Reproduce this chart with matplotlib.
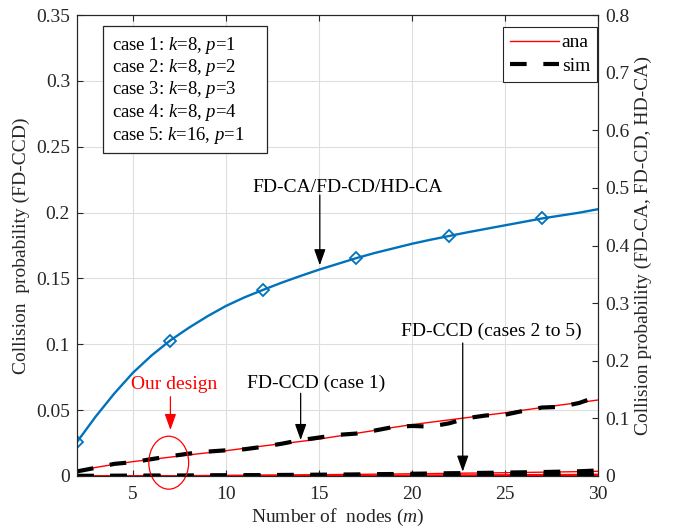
import numpy as np
import matplotlib
matplotlib.use("Agg")
import matplotlib.pyplot as plt
from matplotlib.patches import Ellipse, Rectangle
from matplotlib.lines import Line2D

plt.rcParams['font.family'] = ['Liberation Serif', 'DejaVu Serif']
plt.rcParams['mathtext.fontset'] = 'custom'
plt.rcParams['mathtext.rm'] = 'Liberation Serif'
plt.rcParams['mathtext.it'] = 'Liberation Serif:italic'
plt.rcParams['font.size'] = 14

# number of nodes m = 2..30
m = np.arange(2, 31)

# FD-CA / FD-CD / HD-CA (right axis)
fdca = [0.059, 0.103, 0.143, 0.179, 0.209, 0.235, 0.257, 0.277, 0.295, 0.310,
        0.323, 0.3355, 0.347, 0.358, 0.368, 0.378, 0.387, 0.395, 0.403, 0.410,
        0.4165, 0.423, 0.429, 0.435, 0.441, 0.447, 0.452, 0.457, 0.463]
marker_m = [2, 7, 12, 17, 22, 27]

# FD-CCD case 1 (left axis)
case1_ana = [0.0040, 0.0065, 0.0088, 0.0109, 0.0126, 0.0143, 0.0160, 0.0176, 0.0192, 0.0210,
             0.0228, 0.0245, 0.0262, 0.0280, 0.0302, 0.0324, 0.0346, 0.0369, 0.0390, 0.0408,
             0.0426, 0.0444, 0.0462, 0.0480, 0.0500, 0.0520, 0.0539, 0.0558, 0.0577]
case1_sim = [0.0035, 0.0062, 0.0092, 0.0105, 0.0128, 0.0150, 0.0170, 0.0185, 0.0195, 0.0203,
             0.0222, 0.0245, 0.0272, 0.0292, 0.0312, 0.0322, 0.0345, 0.0372, 0.0380, 0.0375,
             0.0400, 0.0440, 0.0460, 0.0465, 0.0495, 0.0520, 0.0525, 0.0555, 0.0605]

# FD-CCD cases 2 to 5 (left axis)
case2_ana = [0.0000, 0.0000, 0.0001, 0.0001, 0.0002, 0.0002, 0.0003, 0.0004, 0.0005, 0.0006,
             0.0007, 0.0008, 0.0009, 0.0010, 0.0011, 0.0012, 0.0014, 0.0015, 0.0017, 0.0018,
             0.0020, 0.0022, 0.0023, 0.0025, 0.0027, 0.0029, 0.0031, 0.0033, 0.0036]
case3_ana = [0.0000, 0.0000, 0.0000, 0.0000, 0.0000, 0.0000, 0.0000, 0.0001, 0.0001, 0.0001,
             0.0001, 0.0001, 0.0001, 0.0001, 0.0002, 0.0002, 0.0002, 0.0002, 0.0002, 0.0003,
             0.0003, 0.0003, 0.0003, 0.0004, 0.0004, 0.0004, 0.0005, 0.0005, 0.0005]
case4_ana = [0.0000] * 20 + [0.0001] * 9
case5_ana = [0.0000, 0.0000, 0.0000, 0.0001, 0.0001, 0.0001, 0.0001, 0.0002, 0.0002, 0.0002,
             0.0003, 0.0003, 0.0003, 0.0004, 0.0004, 0.0005, 0.0005, 0.0006, 0.0006, 0.0007,
             0.0008, 0.0008, 0.0009, 0.0009, 0.0010, 0.0011, 0.0011, 0.0012, 0.0013]
case2_sim = [0.0000, 0.0000, 0.0001, 0.0001, 0.0002, 0.0002, 0.0003, 0.0004, 0.0005, 0.0006,
             0.0007, 0.0008, 0.0009, 0.0010, 0.0011, 0.0012, 0.0014, 0.0015, 0.0017, 0.0019,
             0.0021, 0.0022, 0.0024, 0.0026, 0.0028, 0.0030, 0.0033, 0.0036, 0.0042]
case3_sim = case3_ana
case4_sim = case4_ana
case5_sim = case5_ana

left_ticks = [0, 0.05, 0.1, 0.15, 0.2, 0.25, 0.3, 0.35]
right_ticks = [0, 0.1, 0.2, 0.3, 0.4, 0.5, 0.6, 0.7, 0.8]
x_ticks = [5, 10, 15, 20, 25, 30]

axcol = '#262626'
blue = '#0072BD'

fig = plt.figure(figsize=(6.76, 5.29), dpi=100)
ax = fig.add_axes([77 / 676, 53 / 529, 521 / 676, 461 / 529])
ax2 = ax.twinx()

# left axis: FD-CCD
for y in [case2_ana, case3_ana, case4_ana, case5_ana]:
    ax.plot(m, y, color='red', lw=1.0, zorder=3)
for y in [case2_sim, case3_sim, case4_sim, case5_sim]:
    ax.plot(m, y, color='black', lw=3, dashes=(4, 4), zorder=4)
ax.plot(m, case1_ana, color='red', lw=1.0, zorder=3)
ax.plot(m, case1_sim, color='black', lw=3, dashes=(4, 4), zorder=4)

# right axis: FD-CA/FD-CD/HD-CA
ax2.plot(m, fdca, color=blue, lw=1.7)
ax2.plot(marker_m, [fdca[i - 2] for i in marker_m], ls='none', marker='D',
         ms=6.5, mfc='none', mec=blue, mew=1.3)

ax.set_xlim(2, 30)
ax.set_ylim(0, 0.35)
ax2.set_ylim(0, 0.8)
ax.set_xticks(x_ticks)
ax.set_xticklabels([str(v) for v in x_ticks])
ax.set_yticks(left_ticks)
ax.set_yticklabels(['%g' % v for v in left_ticks])
ax2.set_yticks(right_ticks)
ax2.set_yticklabels(['%g' % v for v in right_ticks])

ax.grid(True, color='#dedede', lw=0.8)
ax.set_axisbelow(True)
ax.tick_params(direction='in', top=True, length=4, colors=axcol, labelsize=14)
ax.tick_params(axis='x', pad=7)
ax.tick_params(axis='y', pad=5)
ax2.tick_params(direction='in', length=4, colors=axcol, labelsize=14, pad=5)
for a in (ax, ax2):
    for s in a.spines.values():
        s.set_color(axcol)
        s.set_linewidth(0.8)

ax.set_xlabel('Number of  nodes ($m$)', fontsize=14, color=axcol, labelpad=3)
ax.set_ylabel('Collision  probability (FD-CCD)', fontsize=14, color=axcol, labelpad=4)
ax2.set_ylabel('Collision probability (FD-CA, FD-CD, HD-CA)', fontsize=14,
               color=axcol, labelpad=4)

# legend
handles = [Line2D([], [], color='red', lw=1.0),
           Line2D([], [], color='black', lw=3, dashes=(4, 4))]
leg = ax2.legend(handles, ['ana', 'sim'], loc='upper right',
                 bbox_to_anchor=(0.998, 0.974), borderaxespad=0, fontsize=14,
                 fancybox=False, edgecolor=axcol, framealpha=1,
                 handlelength=2.5, handletextpad=0.15, borderpad=0.35,
                 labelspacing=0.3)
leg.get_frame().set_linewidth(0.8)

# case box
cases = ['case 1: $k$=8, $p$=1', 'case 2: $k$=8, $p$=2', 'case 3: $k$=8, $p$=3',
         'case 4: $k$=8, $p$=4', 'case 5: $k$=16, $p$=1']
ax.add_patch(Rectangle((0.0499, 0.7007), 0.3148, 0.2753, transform=ax.transAxes,
                       fill=True, fc='white', ec=axcol, lw=0.9, zorder=6))
for i, s in enumerate(cases):
    ax.text(0.0666, (476 - 45 - 22.5 * i) / 461, s, transform=ax.transAxes,
            ha='left', va='center', fontsize=13.5, zorder=7)

# annotations
arrow_k = dict(arrowstyle='-|>,head_length=0.7,head_width=0.25', color='black', lw=0.9,
               shrinkA=0, shrinkB=0)
ax.text(11.41, 0.2194, 'FD-CA/FD-CD/HD-CA', ha='left', va='center', fontsize=14)
ax.annotate('', xy=(15.05, 0.160), xytext=(15.05, 0.2133), arrowprops=arrow_k)

ax.text(11.13, 0.0704, 'FD-CCD (case 1)', ha='left', va='center', fontsize=14)
ax.annotate('', xy=(14.02, 0.0273), xytext=(14.02, 0.0628), arrowprops=arrow_k)

ax.text(19.4, 0.110, 'FD-CCD (cases 2 to 5)', ha='left', va='center', fontsize=14)
ax.annotate('', xy=(22.73, 0.0033), xytext=(22.73, 0.101), arrowprops=arrow_k)

arrow_r = dict(arrow_k, color='red')
ax.text(4.91, 0.0691, 'Our design', ha='left', va='center', fontsize=14, color='red')
ax.annotate('', xy=(7.02, 0.0349), xytext=(7.02, 0.0602), arrowprops=arrow_r)
ax.add_patch(Ellipse((6.93, 0.0101), 2.14, 0.0402, fill=False, ec='red', lw=0.9,
                     clip_on=False, zorder=5))

fig.savefig('out.png', dpi=100)
